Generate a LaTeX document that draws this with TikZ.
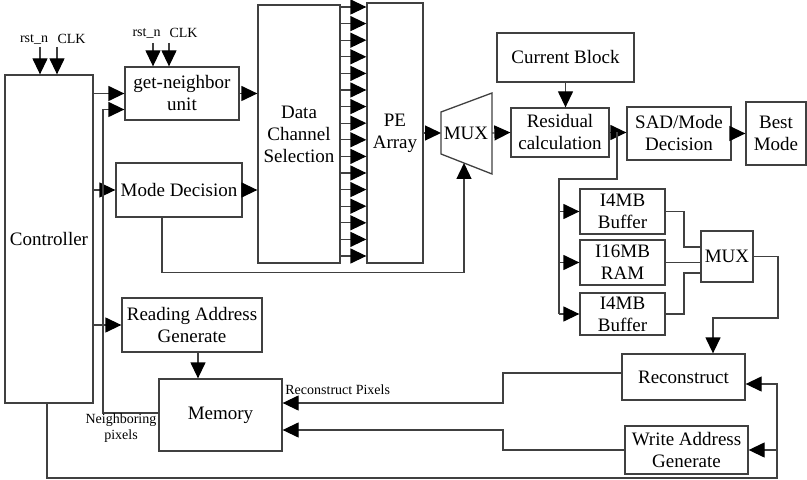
\documentclass[tikz,border=0pt]{standalone}
\usepackage{fontspec}
\setmainfont{Liberation Serif}
\usetikzlibrary{arrows.meta}

\begin{document}
\begin{tikzpicture}[x=0.5pt,y=-0.5pt,
  linea/.style={draw=black!75,line width=0.65pt},
  flecha/.style={linea,-{Triangle[length=8pt,width=7.5pt,color=black]}},
  bloque/.style={linea,fill=white,inner sep=0pt,align=center,font=\fontsize{9.5}{11}\selectfont},
  etiqueta/.style={inner sep=0pt,align=center,font=\fontsize{7}{8}\selectfont}]
\useasboundingbox (0,0) rectangle (807,480);

% Bloques de control
\node[bloque,minimum width=44pt,minimum height=164pt] (ctrl) at (49,239) {Controller};
\node[bloque,minimum width=57pt,minimum height=26.5pt] (gn) at (182,93.5) {get-neighbor\\unit};
\node[bloque,minimum width=63pt,minimum height=27pt] (md) at (179,190) {Mode Decision};
\node[bloque,minimum width=70pt,minimum height=27pt] (rag) at (192,325) {Reading Address\\Generate};
\node[bloque,minimum width=61.5pt,minimum height=36pt] (mem) at (220.5,415) {Memory};

% Ruta de datos
\node[bloque,minimum width=41pt,minimum height=129pt] (dcs) at (299,134) {Data\\Channel\\Selection};
\node[bloque,minimum width=28pt,minimum height=130pt] (pe) at (395,133) {PE\\Array};
\draw[linea] (441,112) -- (492,93) -- (492,174) -- (441,154) -- cycle;
\node[bloque,draw=none,fill=none] (mux) at (466,133) {MUX};
\coordinate (muxin) at (441,133);
\coordinate (muxout) at (492,133);
\coordinate (muxsel) at (464,163);
\node[bloque,minimum width=68.5pt,minimum height=24.5pt] (cb) at (565.5,57.5) {Current Block};
\node[bloque,minimum width=49pt,minimum height=24.5pt] (res) at (560,132.5) {Residual\\calculation};
\node[bloque,minimum width=52pt,minimum height=26.5pt] (sad) at (679,133.5) {SAD/Mode\\Decision};
\node[bloque,minimum width=30pt,minimum height=31.5pt] (bm) at (776,133.5) {Best\\Mode};

% Buffers y reconstruccion
\node[bloque,minimum width=42.5pt,minimum height=22.5pt] (b1) at (622.5,211.5) {I4MB\\Buffer};
\node[bloque,minimum width=42.5pt,minimum height=22.5pt] (ram) at (622.5,262.5) {I16MB\\RAM};
\node[bloque,minimum width=42.5pt,minimum height=21pt] (b2) at (622.5,314) {I4MB\\Buffer};
\node[bloque,minimum width=26pt,minimum height=25.5pt] (mux2) at (727,256.5) {MUX};
\node[bloque,minimum width=61.5pt,minimum height=23pt] (rec) at (683.5,377) {Reconstruct};
\node[bloque,minimum width=61.5pt,minimum height=24pt] (wag) at (686.5,450) {Write Address\\Generate};

% Entradas rst_n y CLK
\node[etiqueta] (rst1) at (34,39) {rst\_n};
\node[etiqueta] (clk1) at (71.5,39) {CLK};
\node[etiqueta] (rst2) at (146.5,33) {rst\_n};
\node[etiqueta] (clk2) at (183.5,33) {CLK};
\coordinate (r1) at (40,47);
\coordinate (c1) at (57,47);
\coordinate (r2) at (153,43);
\coordinate (c2) at (169,43);
\draw[flecha] (r1) -- (r1 |- ctrl.north);
\draw[flecha] (c1) -- (c1 |- ctrl.north);
\draw[flecha] (r2) -- (r2 |- gn.north);
\draw[flecha] (c2) -- (c2 |- gn.north);

% Salidas del controlador
\draw[flecha] (ctrl.east |- gn.west) -- (gn.west);
\draw[flecha] (ctrl.east |- md.west) -- (md.west);
\draw[flecha] (ctrl.east |- rag.west) -- (rag.west);
\coordinate (ra) at ([xshift=3pt]rag.south);
\draw[flecha] (ra) -- (ra |- mem.north);

% Pixeles vecinos
\coordinate (vecino) at (103,0);
\draw[flecha] ([yshift=1pt]mem.west) -- ([yshift=1pt]mem.west -| vecino) |- ([yshift=-8pt]gn.west);
\node[etiqueta] (etqvec) at (121,428) {Neighboring\\pixels};

% Canales hacia el arreglo PE
\draw[flecha] (gn.east) -- (gn.east -| dcs.west);
\draw[flecha] (md.east) -- (md.east -| dcs.west);
\foreach \y in {7,23.6,...,257}
  \draw[flecha] (dcs.east |- 0,\y) -- (pe.west |- 0,\y);
\draw[flecha] (pe.east) -- (muxin);
\draw[flecha] ([xshift=-8.5pt]md.south) -- ++(0,55) -| (muxsel);
\draw[flecha] (muxout) -- (res.west);
\draw[flecha] (cb.south) -- (cb.south |- res.north);
\draw[flecha] (res.east) -- (res.east -| sad.west);
\draw[flecha] (sad.east) -- (sad.east -| bm.west);

% Rama hacia los buffers
\coordinate (rama) at (617,132.5);
\coordinate (bbus) at (559,0);
\draw[linea] (rama) -- ++(0,46.5) -| (bbus |- b2.west);
\foreach \n in {b1,ram,b2}
  \draw[flecha] (bbus |- \n.west) -- (\n.west);

% Buffers al MUX
\coordinate (mbus) at (684,0);
\coordinate (m1) at ([yshift=4.75pt]mux2.west);
\coordinate (m3) at ([yshift=-8.25pt]mux2.west);
\draw[linea] (b1.east) -| (m1 -| mbus) -- (m1);
\draw[linea] (ram.east) -- (ram.east -| mux2.west);
\draw[linea] (b2.east) -| (m3 -| mbus) -- (m3);
\coordinate (rbus) at (778,318);
\draw[flecha] (mux2.east) -| (rbus) -| ([xshift=14.75pt]rec.north);

% Escritura en memoria
\coordinate (xbus) at (503,0);
\coordinate (mr) at ([yshift=6pt]mem.east);
\coordinate (mw) at ([yshift=-7.5pt]mem.east);
\draw[flecha] ([yshift=2pt]rec.west) -| (mr -| xbus) -- (mr);
\draw[flecha] (wag.west) -| (mw -| xbus) -- (mw);
\node[etiqueta,anchor=west] (etqrec) at (285,390) {Reconstruct Pixels};

% Realimentacion del controlador
\coordinate (fb) at (777,478);
\draw[flecha] ([xshift=-1pt]ctrl.south) |- (fb) |- ([yshift=-3.5pt]rec.east);
\draw[flecha] (fb |- wag.east) -- (wag.east);

\end{tikzpicture}
\end{document}
